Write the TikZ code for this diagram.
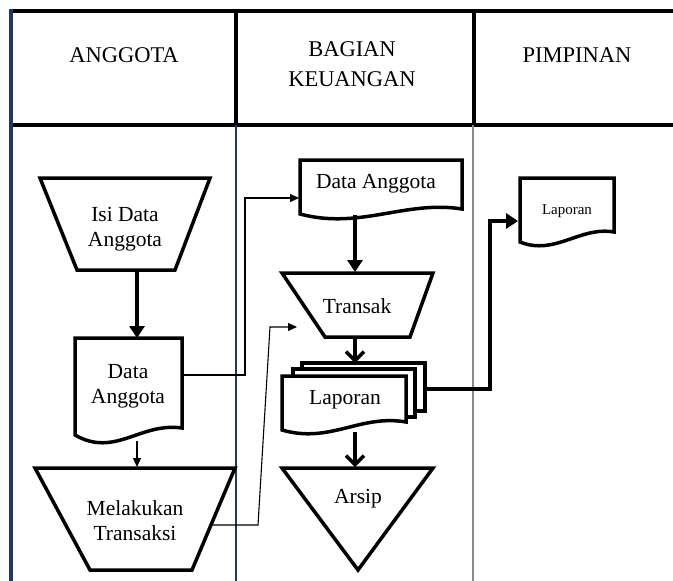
\documentclass[tikz,border=0pt]{standalone}
\usepackage{fontspec}
\setmainfont{Liberation Serif}
\usetikzlibrary{arrows.meta}
\definecolor{navy}{HTML}{1F3A5A}
\definecolor{lanegray}{HTML}{8A8A8A}
\begin{document}
\begin{tikzpicture}[x=1pt,y=-1pt,
  shapeline/.style={line width=3.5pt, line join=miter, fill=white},
  lbl/.style={font=\fontsize{21.5}{25}\selectfont, align=center, inner sep=0pt},
  hdr/.style={font=\fontsize{22.5}{30}\selectfont, align=center, inner sep=0pt},
  smalllbl/.style={font=\fontsize{15}{17}\selectfont, inner sep=0pt},
  thickarrow/.style={line width=3.5pt, -{Triangle[length=12pt,width=15pt]}},
  barbarrow/.style={line width=3.5pt, -{Straight Barb[length=9pt,width=18pt,line width=3.5pt]}},
  thinarrow/.style={line width=1.1pt, -{Triangle[length=9pt,width=8pt]}},
  heavyline/.style={line width=4pt}
]
\useasboundingbox (0,0) rectangle (673,581);
\fill[white] (0,0) rectangle (673,581);

% lanes
\draw[heavyline] (10,11) -- (673,11);
\draw[heavyline] (10,125) -- (673,125);
\draw[heavyline] (236,11) -- (236,125);
\draw[heavyline] (474,11) -- (474,125);
\draw[navy, line width=2pt] (236,125) -- (236,581);
\draw[lanegray, line width=1.2pt] (473,125) -- (473,581);
\draw[navy, line width=4pt] (11,9) -- (11,581);

\node[hdr] (hA) at (124,55) {ANGGOTA};
\node[hdr] (hB) at (352,64) {BAGIAN\\KEUANGAN};
\node[hdr] (hP) at (577,55) {PIMPINAN};

% Isi Data Anggota
\draw[shapeline] (40,178) -- (210,178) -- (175,270) -- (77,270) -- cycle;
\node[lbl] (isi) at (125,229) {Isi Data\\Anggota};
\coordinate (isiB) at (137,270);

% Data Anggota (left)
\draw[shapeline] (75,338) -- (182,338) -- (182,428) .. controls (140,422) and (115,458) .. (75,435) -- cycle;
\node[lbl] (da1) at (128,386) {Data\\Anggota};
\coordinate (da1T) at (137,338);
\coordinate (da1B) at (137,441);
\coordinate (da1R) at (182,375);

% Melakukan Transaksi
\draw[shapeline] (35,468) -- (235,468) -- (192,570) -- (90,570) -- cycle;
\node[lbl] (mt) at (135,521) {Melakukan\\Transaksi};
\coordinate (mtT) at (137,467);
\coordinate (mtR) at (211,525);

% Data Anggota (Bagian Keuangan)
\draw[shapeline] (300,160) -- (462,160) -- (462,209) .. controls (405,200) and (360,230) .. (300,214) -- cycle;
\node[lbl] (da2) at (376,184) {Data Anggota};
\coordinate (da2L) at (299,198);
\coordinate (da2B) at (355,215);

% Transak
\draw[shapeline] (282,273) -- (433,273) -- (410,337) -- (325,337) -- cycle;
\node[lbl] (tr) at (357,306) {Transak};
\coordinate (trT) at (355,272);
\coordinate (trB) at (355,337);
\coordinate (trIn) at (297,327);

% Laporan (multi document)
\draw[shapeline] (302,363) rectangle (425,411);
\draw[shapeline] (293,369) rectangle (415,417);
\draw[shapeline] (282,376) -- (406,376) -- (406,422) .. controls (360,414) and (330,444) .. (282,430) -- cycle;
\node[lbl] (lp) at (345,400) {Laporan};
\coordinate (lpT) at (355,363);
\coordinate (lpB) at (355,432);
\coordinate (lpR) at (425,389);

% Arsip
\draw[shapeline] (282,468) -- (433,468) -- (358,570) -- cycle;
\node[lbl] (ar) at (358,499) {Arsip};
\coordinate (arT) at (355,467);

% Laporan (Pimpinan)
\draw[shapeline] (520,178) -- (614,178) -- (614,232) .. controls (580,226) and (555,256) .. (520,242) -- cycle;
\node[smalllbl] (lp2) at (567,211) {Laporan};
\coordinate (lp2L) at (518,221);

% connectors
\draw[thickarrow] (isiB) -- (da1T);
\draw[thinarrow] (da1B) -- (mtT);
\draw[thinarrow] (da1R) -- (245,375) -- (245,198) -- (da2L);
\draw[thinarrow] (mtR) -- (258,525) -- (270,327) -- (trIn);
\draw[thickarrow] (da2B) -- (trT);
\draw[barbarrow] (trB) -- (lpT);
\draw[barbarrow] (lpB) -- (arT);
\draw[thickarrow, line join=miter] (lpR) -- (490,389) -- (490,221) -- (lp2L);
\end{tikzpicture}
\end{document}
